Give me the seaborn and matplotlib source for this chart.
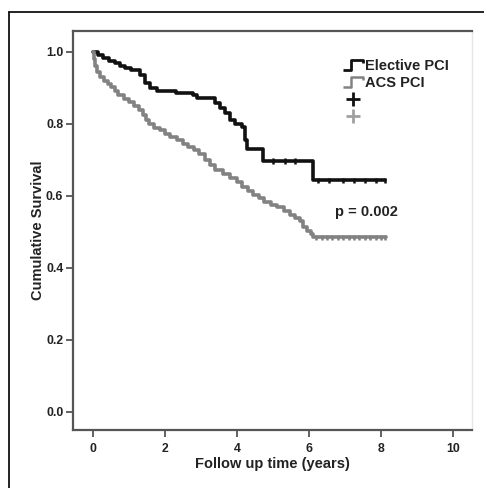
import numpy as np
import pandas as pd
import matplotlib
matplotlib.use("Agg")
import matplotlib.pyplot as plt
from matplotlib.lines import Line2D
from matplotlib.path import Path
import seaborn as sns

# ---------------- data ----------------
groups = ["Elective PCI", "ACS PCI"]

elective_time = [0, 0.15, 0.29, 0.45, 0.61, 0.75, 0.89, 1.05, 1.31, 1.44, 1.58,
                 1.77, 2.30, 2.79, 2.88, 3.39, 3.53, 3.67, 3.81, 3.94, 4.13,
                 4.22, 4.27, 4.73, 6.10, 8.11]
elective_surv = [1.0, 0.99, 0.982, 0.975, 0.969, 0.962, 0.955, 0.95, 0.936, 0.913, 0.899,
                 0.89, 0.885, 0.88, 0.871, 0.857, 0.843, 0.83, 0.811, 0.80, 0.792,
                 0.756, 0.73, 0.697, 0.643, 0.643]

acs_time = [0, 0.02, 0.05, 0.10, 0.19, 0.30, 0.42, 0.50, 0.60, 0.70, 0.85, 1.00,
            1.15, 1.27, 1.38, 1.47, 1.55, 1.70, 1.86, 2.00, 2.15, 2.32, 2.50, 2.65,
            2.80, 2.95, 3.10, 3.25, 3.40, 3.60, 3.80, 4.00, 4.15, 4.30, 4.45, 4.60,
            4.75, 4.95, 5.10, 5.30, 5.47, 5.60, 5.75, 5.84, 5.95, 6.07, 6.12, 8.14]
acs_surv = [1.0, 0.98, 0.96, 0.945, 0.93, 0.92, 0.91, 0.903, 0.89, 0.88, 0.87, 0.862,
            0.85, 0.84, 0.825, 0.81, 0.80, 0.79, 0.783, 0.772, 0.763, 0.756, 0.745, 0.735,
            0.727, 0.717, 0.70, 0.686, 0.672, 0.662, 0.651, 0.638, 0.625, 0.614, 0.603, 0.593,
            0.584, 0.574, 0.568, 0.558, 0.547, 0.54, 0.53, 0.515, 0.503, 0.495, 0.485, 0.485]

elective_cens_time = [5.0, 5.33, 5.61, 6.25, 6.55, 6.95, 7.25, 7.55, 7.85, 8.1]
elective_cens_surv = [0.697, 0.697, 0.697, 0.643, 0.643, 0.643, 0.643, 0.643, 0.643, 0.643]
acs_cens_time = [6.2, 6.35, 6.5, 6.65, 6.8, 6.95, 7.1, 7.25, 7.4, 7.55, 7.7, 7.85, 8.0, 8.12]
acs_cens_surv = [0.485] * 14

x_ticks = [0, 2, 4, 6, 8, 10]
y_ticks = [0.0, 0.2, 0.4, 0.6, 0.8, 1.0]
y_tick_labels = ["0.0", "0.2", "0.4", "0.6", "0.8", "1.0"]
p_text = "p = 0.002"
x_label = "Follow up time (years)"
y_label = "Cumulative Survival"

# ---------------- style ----------------
sns.set_theme(style="white")
plt.rcParams["font.family"] = ["Liberation Sans", "DejaVu Sans"]
plt.rcParams["font.weight"] = "bold"

colors = {"Elective PCI": "#111111", "ACS PCI": "#828282"}
text_color = "#222222"

curves = pd.concat([
    pd.DataFrame({"time": elective_time, "surv": elective_surv, "group": groups[0]}),
    pd.DataFrame({"time": acs_time, "surv": acs_surv, "group": groups[1]}),
], ignore_index=True)
cens = pd.concat([
    pd.DataFrame({"time": elective_cens_time, "surv": elective_cens_surv, "group": groups[0]}),
    pd.DataFrame({"time": acs_cens_time, "surv": acs_cens_surv, "group": groups[1]}),
], ignore_index=True)

fig = plt.figure(figsize=(4.85, 4.88), dpi=100)
ax = fig.add_axes([73 / 485, 1 - 430 / 488, 399 / 485, 399 / 488])

sns.lineplot(data=curves, x="time", y="surv", hue="group", palette=colors,
             estimator=None, sort=False, drawstyle="steps-post", linewidth=2.6,
             legend=False, ax=ax)
sns.scatterplot(data=cens, x="time", y="surv", hue="group", palette=colors,
                marker="|", s=16, linewidth=1.8, legend=False, ax=ax)

ax.set_xlim(-0.556, 10.53)
ax.set_ylim(-0.05, 1.058)
ax.set_xticks(x_ticks)
ax.set_yticks(y_ticks)
ax.set_yticklabels(y_tick_labels)
ax.tick_params(axis="both", direction="out", length=5, width=1.3, color="#555555",
               labelsize=8.8, labelcolor=text_color, pad=2, left=True, bottom=True)
for lab in ax.get_xticklabels() + ax.get_yticklabels():
    lab.set_fontweight("bold")
ax.tick_params(axis="x", pad=4)

ax.set_xlabel(x_label, fontsize=10.5, fontweight="bold", color=text_color, labelpad=2)
ax.set_ylabel(y_label, fontsize=10.5, fontweight="bold", color=text_color, labelpad=1)

for side in ["left", "bottom", "top"]:
    ax.spines[side].set_color("#555555")
    ax.spines[side].set_linewidth(1.6)
ax.spines["right"].set_color("#e6e6e6")
ax.spines["right"].set_linewidth(1.0)

ax.text(6.72, 0.556, p_text, fontsize=10.5, fontweight="bold", color=text_color,
        ha="left", va="center")

# legend with step-shaped handles and censor "+" entries
step_path = Path([(-1.0, -0.45), (-0.15, -0.45), (-0.15, 0.45), (1.0, 0.45), (1.0, 0.2)],
                 [Path.MOVETO, Path.LINETO, Path.LINETO, Path.LINETO, Path.LINETO])
handles = [
    Line2D([], [], linestyle="None", marker=step_path, markersize=15,
           markerfacecolor="none", markeredgecolor=colors["Elective PCI"], markeredgewidth=2.0),
    Line2D([], [], linestyle="None", marker=step_path, markersize=15,
           markerfacecolor="none", markeredgecolor=colors["ACS PCI"], markeredgewidth=1.8),
    Line2D([], [], linestyle="None", marker="+", markersize=10,
           markeredgecolor=colors["Elective PCI"], markeredgewidth=2.0),
    Line2D([], [], linestyle="None", marker="+", markersize=10,
           markeredgecolor="#a0a0a0", markeredgewidth=2.0),
]
leg = ax.legend(handles, [groups[0], groups[1], "", ""], loc="upper left",
                bbox_to_anchor=(0.657, 0.948), frameon=False, borderpad=0,
                handlelength=1.5, handletextpad=0.05, labelspacing=0.2,
                prop={"size": 10.5, "weight": "bold"})
for t in leg.get_texts():
    t.set_color(text_color)

# outer frame lines (top and left) of the figure
fig.add_artist(Line2D([9.5 / 485, 9.5 / 485], [0, 1 - 12 / 488], transform=fig.transFigure,
                      color="#111111", linewidth=1.3))
fig.add_artist(Line2D([9.5 / 485, 1], [1 - 12 / 488, 1 - 12 / 488], transform=fig.transFigure,
                      color="#111111", linewidth=1.3))

fig.savefig("out.png", dpi=100)
